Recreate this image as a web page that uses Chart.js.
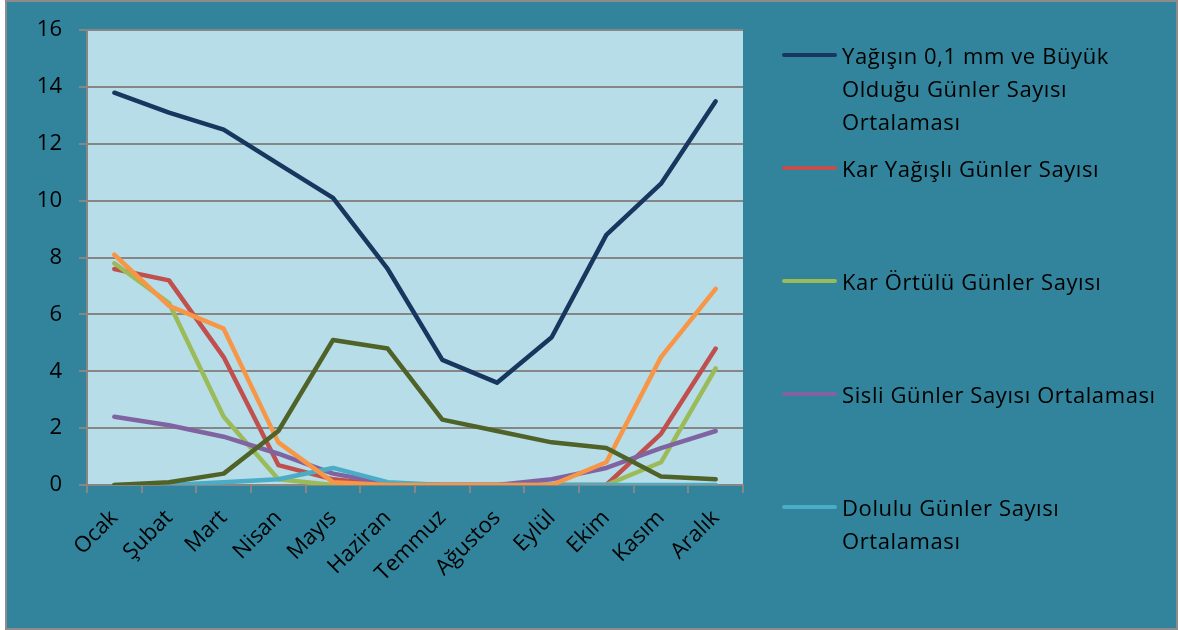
<!DOCTYPE html>
<html>
<head>
<meta charset="utf-8">
<script src="https://cdn.jsdelivr.net/npm/chart.js@4/dist/chart.umd.min.js"></script>
<style>
  body { margin: 0; background: #fff; font-family: "Open Sans", sans-serif; }
  #box { position: absolute; left: 5px; top: 0; width: 1173px; height: 630px; box-sizing: border-box;
         border: 2px solid #8c8c8c; background: #31849B; }
  #wrap { position: absolute; left: 0; top: 0; width: 1178px; height: 630px; }
  #legend { position: absolute; left: 782px; top: 38.5px; }
  .item { position: relative; height: 113px; }
  .mark { position: absolute; left: 0; top: 14.5px; width: 55px; height: 4px; border-radius: 2px; }
  .txt { margin-left: 60px; font-size: 22px; line-height: 33px; letter-spacing: 0.6px; color: #000; white-space: nowrap; }
</style>
</head>
<body>
<div id="box"></div>
<div id="wrap"><canvas id="chart" width="1178" height="630"></canvas></div>
<div id="legend"></div>
<script>
// month names (x axis)
const months = ['Ocak', 'Şubat', 'Mart', 'Nisan', 'Mayıs', 'Haziran', 'Temmuz', 'Ağustos', 'Eylül', 'Ekim', 'Kasım', 'Aralık'];

// series values
const yagisliGun = [13.8, 13.1, 12.5, 11.3, 10.1, 7.6, 4.4, 3.6, 5.2, 8.8, 10.6, 13.5];
const karYagisli = [7.6, 7.2, 4.5, 0.7, 0.2, 0, 0, 0, 0, 0, 1.8, 4.8];
const karOrtulu  = [7.8, 6.4, 2.4, 0.2, 0, 0, 0, 0, 0, 0, 0.8, 4.1];
const sisli      = [2.4, 2.1, 1.7, 1.1, 0.4, 0.05, 0, 0, 0.2, 0.6, 1.3, 1.9];
const dolulu     = [0, 0, 0.1, 0.2, 0.6, 0.1, 0, 0, 0, 0, 0, 0];
const seri6      = [8.1, 6.3, 5.5, 1.5, 0.1, 0, 0, 0, 0, 0.8, 4.5, 6.9];
const seri7      = [0, 0.1, 0.4, 1.9, 5.1, 4.8, 2.3, 1.9, 1.5, 1.3, 0.3, 0.2];

// y axis ticks
const yMin = 0, yMax = 16, yStep = 2;

// series names ('' = not shown in the legend)
const names = [
  ['Yağışın 0,1 mm ve Büyük', 'Olduğu Günler Sayısı', 'Ortalaması'],
  ['Kar Yağışlı Günler Sayısı'],
  ['Kar Örtülü Günler Sayısı'],
  ['Sisli Günler Sayısı Ortalaması'],
  ['Dolulu Günler Sayısı', 'Ortalaması'],
  [''],
  ['']
];
const colors = ['#17375E', '#C0504D', '#9BBB59', '#8064A2', '#4BACC6', '#F79646', '#4F6228'];
const allData = [yagisliGun, karYagisli, karOrtulu, sisli, dolulu, seri6, seri7];

const datasets = [];
for (let i = 0; i < allData.length; i++) {
  datasets.push({
    label: names[i].join(' '),
    data: allData[i],
    borderColor: colors[i],
    backgroundColor: colors[i],
    borderWidth: 4.5,
    borderCapStyle: 'round',
    borderJoinStyle: 'round',
    pointRadius: 0,
    tension: 0,
    order: allData.length - 1 - i     // later series drawn on top, like Excel
  });
}

// light blue plot background
const plotBg = {
  id: 'plotBg',
  beforeDraw(chart) {
    const a = chart.chartArea, ctx = chart.ctx;
    ctx.save();
    ctx.fillStyle = '#B7DDE8';
    ctx.fillRect(a.left, a.top, a.right - a.left, a.bottom - a.top);
    ctx.restore();
  }
};

const gridGrey = '#868686';
const axisFont = {family: '"Open Sans", sans-serif', size: 22};

new Chart(document.getElementById('chart').getContext('2d'), {
  type: 'line',
  data: {labels: months, datasets: datasets},
  options: {
    responsive: false,
    devicePixelRatio: 1,
    animation: false,
    layout: {padding: {left: 0, top: 30, right: 435, bottom: 0}},
    plugins: {legend: {display: false}, tooltip: {enabled: false}},
    scales: {
      x: {
        offset: true,
        grid: {offset: true, drawOnChartArea: false, drawTicks: true, tickLength: 8, color: gridGrey, lineWidth: 2},
        border: {color: gridGrey, width: 2},
        ticks: {color: '#000', font: axisFont, minRotation: 45, maxRotation: 45, padding: 12, autoSkip: false},
        afterFit(s) { s.height = 145; }
      },
      y: {
        min: yMin,
        max: yMax,
        grid: {color: gridGrey, lineWidth: 2, tickLength: 8},
        border: {color: gridGrey, width: 2},
        ticks: {stepSize: yStep, color: '#000', font: axisFont, padding: 17},
        afterFit(s) { s.width = 87; }
      }
    }
  },
  plugins: [plotBg]
});

// legend (only the first five series, as in the original)
const legend = document.getElementById('legend');
for (let i = 0; i < 5; i++) {
  const item = document.createElement('div');
  item.className = 'item';
  const mark = document.createElement('div');
  mark.className = 'mark';
  mark.style.background = colors[i];
  const txt = document.createElement('div');
  txt.className = 'txt';
  names[i].forEach((line, k) => {
    if (k > 0) txt.appendChild(document.createElement('br'));
    txt.appendChild(document.createTextNode(line));
  });
  item.appendChild(mark);
  item.appendChild(txt);
  legend.appendChild(item);
}
</script>
</body>
</html>
